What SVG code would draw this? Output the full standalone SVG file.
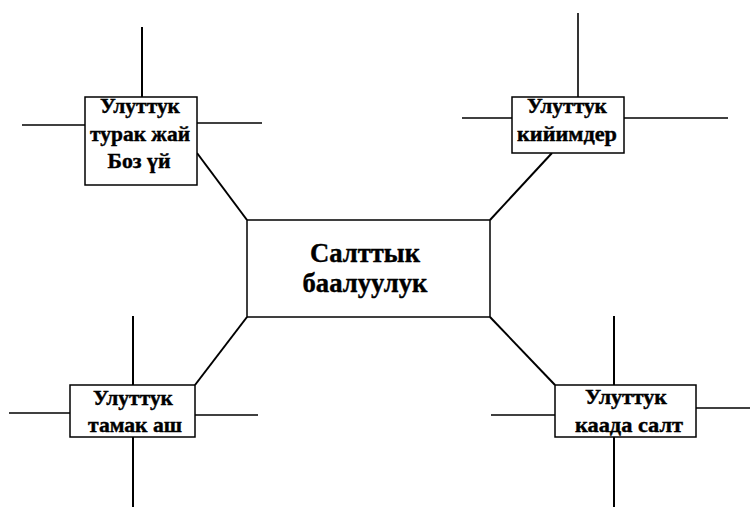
<svg xmlns="http://www.w3.org/2000/svg" width="751" height="507" viewBox="0 0 751 507">
<style>
.box{fill:#fff;stroke:#000;stroke-width:1.5}
.ln{stroke:#000;stroke-width:2;fill:none}
.h{stroke-width:1.6}
.t{font-family:"Liberation Serif","Times New Roman",serif;font-weight:bold;font-size:20px;text-anchor:middle;fill:#000;stroke:#000;stroke-width:0.4}
.tc{font-family:"Liberation Serif","Times New Roman",serif;font-weight:bold;font-size:27px;text-anchor:middle;fill:#000;stroke:#000;stroke-width:0.4}
</style>
<rect width="751" height="507" fill="#fff"/>
<g id="connectors">
<line class="ln" x1="142" y1="27" x2="142" y2="97"/>
<line class="ln h" x1="22" y1="125" x2="85" y2="125"/>
<line class="ln h" x1="197" y1="123" x2="262" y2="123"/>
<line class="ln" x1="197" y1="153" x2="247" y2="220"/>
<line class="ln h" x1="578" y1="13" x2="578" y2="97"/>
<line class="ln h" x1="462" y1="118" x2="512" y2="118"/>
<line class="ln h" x1="624" y1="118" x2="728" y2="118"/>
<line class="ln" x1="552" y1="153" x2="490" y2="220"/>
<line class="ln" x1="133" y1="316" x2="133" y2="385"/>
<line class="ln" x1="133" y1="437" x2="133" y2="507"/>
<line class="ln h" x1="9" y1="413" x2="70" y2="413"/>
<line class="ln h" x1="195" y1="415" x2="258" y2="415"/>
<line class="ln" x1="247" y1="317" x2="195" y2="385"/>
<line class="ln" x1="614" y1="316" x2="614" y2="385"/>
<line class="ln" x1="614" y1="437" x2="614" y2="507"/>
<line class="ln h" x1="491" y1="415" x2="555" y2="415"/>
<line class="ln h" x1="696" y1="408" x2="750" y2="408"/>
<line class="ln" x1="490" y1="317" x2="555" y2="385"/>
</g>
<g id="center">
<rect class="box" x="247" y="220" width="243" height="97"/>
<text class="tc" x="365" y="262" textLength="110" lengthAdjust="spacingAndGlyphs">Салттык</text>
<text class="tc" x="365" y="292" textLength="125" lengthAdjust="spacingAndGlyphs">баалуулук</text>
</g>
<g id="housing">
<rect class="box" x="85" y="97" width="112" height="88"/>
<text class="t" x="140" y="113" textLength="80" lengthAdjust="spacingAndGlyphs">Улуттук</text>
<text class="t" x="140" y="141" textLength="100" lengthAdjust="spacingAndGlyphs">турак жай</text>
<text class="t" x="139" y="168" textLength="63" lengthAdjust="spacingAndGlyphs">Боз үй</text>
</g>
<g id="clothing">
<rect class="box" x="512" y="97" width="112" height="56"/>
<text class="t" x="567" y="113" textLength="80" lengthAdjust="spacingAndGlyphs">Улуттук</text>
<text class="t" x="567" y="141" textLength="100" lengthAdjust="spacingAndGlyphs">кийимдер</text>
</g>
<g id="food">
<rect class="box" x="70" y="385" width="125" height="52"/>
<text class="t" x="133" y="405" textLength="80" lengthAdjust="spacingAndGlyphs">Улуттук</text>
<text class="t" x="135" y="432" textLength="94" lengthAdjust="spacingAndGlyphs">тамак аш</text>
</g>
<g id="customs">
<rect class="box" x="555" y="385" width="141" height="52"/>
<text class="t" x="626" y="404" textLength="82" lengthAdjust="spacingAndGlyphs">Улуттук</text>
<text class="t" x="629" y="432" textLength="108" lengthAdjust="spacingAndGlyphs">каада салт</text>
</g>
</svg>
